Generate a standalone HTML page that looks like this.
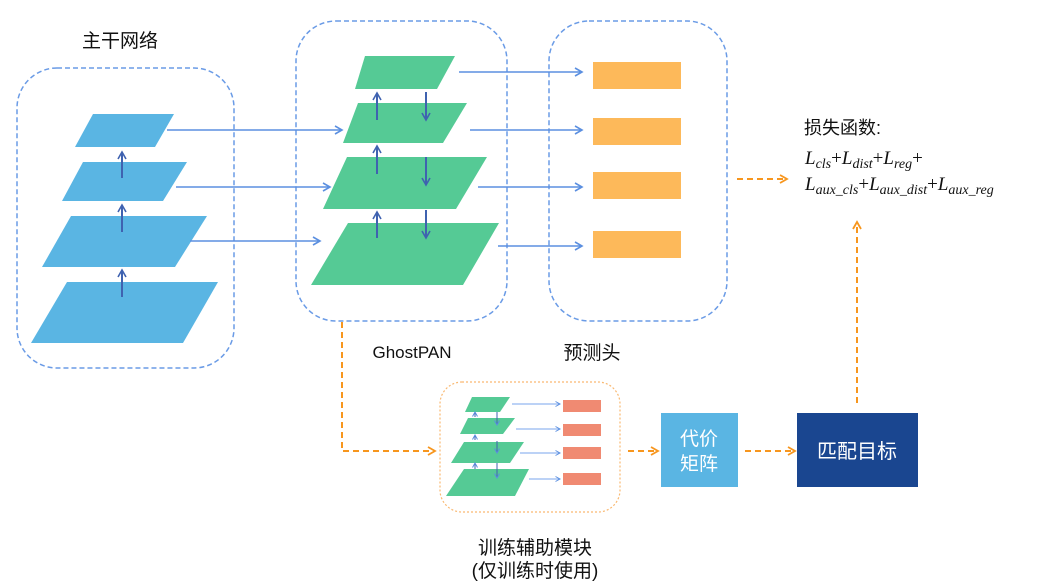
<!DOCTYPE html>
<html><head><meta charset="utf-8"><style>
html,body{margin:0;padding:0;background:#fff;}
svg{display:block;}
.cj{font-family:"Liberation Sans","Noto Sans CJK SC",sans-serif;}
.m{font-family:"Liberation Serif","DejaVu Serif",serif;font-style:italic;}
</style></head><body>
<svg width="1039" height="584" viewBox="0 0 1039 584" xmlns="http://www.w3.org/2000/svg">
<defs>
<marker id="ab" markerWidth="10" markerHeight="10" refX="8" refY="5" orient="auto" markerUnits="userSpaceOnUse"><path d="M1,1 L8,5 L1,9" fill="none" stroke="#5B8FE0" stroke-width="1.6"/></marker>
<marker id="ad" markerWidth="10" markerHeight="10" refX="8" refY="5" orient="auto" markerUnits="userSpaceOnUse"><path d="M1,1 L8,5 L1,9" fill="none" stroke="#3F62B0" stroke-width="1.6"/></marker>
<marker id="ao" markerWidth="10" markerHeight="10" refX="8" refY="5" orient="auto" markerUnits="userSpaceOnUse"><path d="M1,1 L8,5 L1,9" fill="none" stroke="#F7961E" stroke-width="1.8"/></marker>
<marker id="as" markerWidth="6" markerHeight="6" refX="5" refY="3" orient="auto" markerUnits="userSpaceOnUse"><path d="M0.5,0.5 L5,3 L0.5,5.5" fill="none" stroke="#5B8FE0" stroke-width="1"/></marker>
</defs>
<rect x="17" y="68" width="217" height="300" rx="40" fill="none" stroke="#6A9BE6" stroke-width="1.5" stroke-dasharray="5,3"/>
<rect x="296" y="21" width="211" height="300" rx="40" fill="none" stroke="#6A9BE6" stroke-width="1.5" stroke-dasharray="5,3"/>
<rect x="549" y="21" width="178" height="300" rx="40" fill="none" stroke="#6A9BE6" stroke-width="1.5" stroke-dasharray="5,3"/>
<g fill="#5AB5E3">
<polygon points="93,114 174,114 155,147 75,147"/>
<polygon points="83,162 187,162 163,201 62,201"/>
<polygon points="71,216 207,216 175,267 42,267"/>
<polygon points="67,282 218,282 183,343 31,343"/>
</g>
<g stroke="#3F62B0" stroke-width="2" marker-end="url(#ad)">
<line x1="122" y1="178" x2="122" y2="152"/>
<line x1="122" y1="232" x2="122" y2="205"/>
<line x1="122" y1="297" x2="122" y2="270"/>
</g>
<g stroke="#5B8FE0" stroke-width="1.6" marker-end="url(#ab)">
<line x1="167" y1="130" x2="342" y2="130"/>
<line x1="176" y1="187" x2="330" y2="187"/>
<line x1="190" y1="241" x2="320" y2="241"/>
<line x1="459" y1="72" x2="582" y2="72"/>
<line x1="470" y1="130" x2="582" y2="130"/>
<line x1="478" y1="187" x2="582" y2="187"/>
<line x1="498" y1="246" x2="582" y2="246"/>
</g>
<g fill="#55CA95">
<polygon points="365,56 455,56 437,89 355,89"/>
<polygon points="358,103 467,103 443,143 343,143"/>
<polygon points="347,157 487,157 456,209 323,209"/>
<polygon points="348,223 499,223 463,285 311,285"/>
</g>
<g stroke="#3F62B0" stroke-width="2" marker-end="url(#ad)">
<line x1="377" y1="120" x2="377" y2="93"/>
<line x1="377" y1="174" x2="377" y2="146"/>
<line x1="377" y1="238" x2="377" y2="212"/>
<line x1="426" y1="92" x2="426" y2="120"/>
<line x1="426" y1="157" x2="426" y2="185"/>
<line x1="426" y1="210" x2="426" y2="238"/>
</g>
<g fill="#FDB95A">
<rect x="593" y="62" width="88" height="27"/>
<rect x="593" y="118" width="88" height="27"/>
<rect x="593" y="172" width="88" height="27"/>
<rect x="593" y="231" width="88" height="27"/>
</g>
<text x="120" y="47" class="cj" font-size="19" text-anchor="middle" fill="#111">主干网络</text>
<text x="412" y="358" class="cj" font-size="17" text-anchor="middle" fill="#111">GhostPAN</text>
<text x="592" y="359" class="cj" font-size="19" text-anchor="middle" fill="#111">预测头</text>
<g stroke="#F7961E" stroke-width="2" stroke-dasharray="6,4" fill="none">
<polyline points="342,322 342,451 435,451" marker-end="url(#ao)"/>
<line x1="628" y1="451" x2="658" y2="451" marker-end="url(#ao)"/>
<line x1="745" y1="451" x2="795" y2="451" marker-end="url(#ao)"/>
<line x1="857" y1="403" x2="857" y2="222" marker-end="url(#ao)"/>
<line x1="737" y1="179" x2="787" y2="179" marker-end="url(#ao)"/>
</g>
<rect x="440" y="382" width="180" height="130" rx="22" fill="none" stroke="#F9B870" stroke-width="1.2" stroke-dasharray="2,2"/>
<g fill="#55CA95">
<polygon points="472,397 510,397 500,412 465,412"/>
<polygon points="468,418 515,418 503,434 460,434"/>
<polygon points="464,442 524,442 510,463 451,463"/>
<polygon points="464,469 529,469 515,496 446,496"/>
</g>
<g stroke="#3F62B0" stroke-width="1" marker-end="url(#as)">
<line x1="475" y1="417" x2="475" y2="412"/>
<line x1="475" y1="440" x2="475" y2="435"/>
<line x1="475" y1="469" x2="475" y2="463"/>
<line x1="497" y1="412" x2="497" y2="425"/>
<line x1="497" y1="441" x2="497" y2="453"/>
<line x1="497" y1="463" x2="497" y2="478"/>
</g>
<g stroke="#7AA6EC" stroke-width="1" marker-end="url(#as)">
<line x1="512" y1="404" x2="560" y2="404"/>
<line x1="516" y1="429" x2="560" y2="429"/>
<line x1="520" y1="453" x2="560" y2="453"/>
<line x1="529" y1="479" x2="560" y2="479"/>
</g>
<g fill="#F08A72">
<rect x="563" y="400" width="38" height="12"/>
<rect x="563" y="424" width="38" height="12"/>
<rect x="563" y="447" width="38" height="12"/>
<rect x="563" y="473" width="38" height="12"/>
</g>
<text x="535" y="554" class="cj" font-size="19" text-anchor="middle" fill="#111">训练辅助模块</text>
<text x="535" y="577" class="cj" font-size="19" text-anchor="middle" fill="#111">(仅训练时使用)</text>
<rect x="661" y="413" width="77" height="74" fill="#5AB5E3"/>
<text x="699" y="445" class="cj" font-size="19" text-anchor="middle" fill="#fff">代价</text>
<text x="699" y="470" class="cj" font-size="19" text-anchor="middle" fill="#fff">矩阵</text>
<rect x="797" y="413" width="121" height="74" fill="#1A4690"/>
<text x="857" y="458" class="cj" font-size="20" text-anchor="middle" fill="#fff">匹配目标</text>
<text x="804" y="134" class="cj" font-size="18" fill="#111">损失函数:</text>
<text x="805" y="164" class="m" font-size="19" fill="#111">L<tspan font-size="14" dy="4">cls</tspan><tspan dy="-4" font-style="normal">+</tspan>L<tspan font-size="14" dy="4">dist</tspan><tspan dy="-4" font-style="normal">+</tspan>L<tspan font-size="14" dy="4">reg</tspan><tspan dy="-4" font-style="normal">+</tspan></text>
<text x="805" y="190" class="m" font-size="19" fill="#111">L<tspan font-size="14" dy="4">aux_cls</tspan><tspan dy="-4" font-style="normal">+</tspan>L<tspan font-size="14" dy="4">aux_dist</tspan><tspan dy="-4" font-style="normal">+</tspan>L<tspan font-size="14" dy="4">aux_reg</tspan></text>
</svg>
</body></html>
